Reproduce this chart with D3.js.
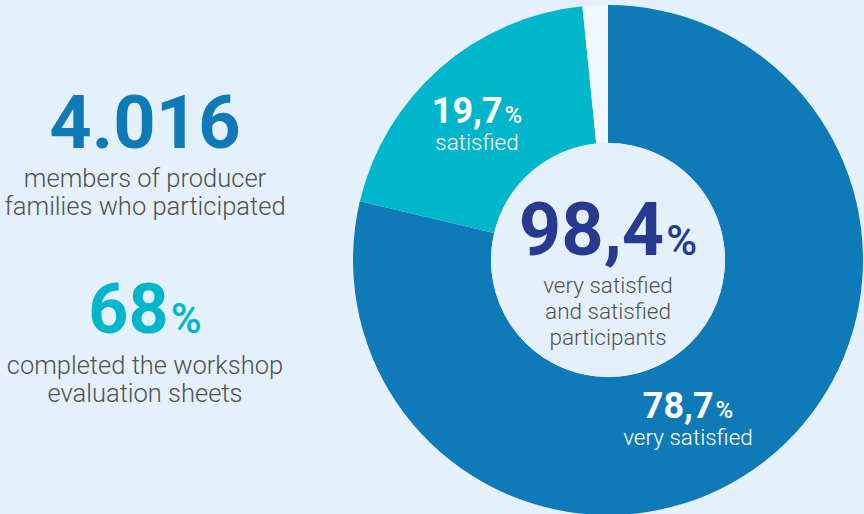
<!DOCTYPE html>
<html><head><meta charset="utf-8">
<script src="https://cdn.jsdelivr.net/npm/d3@7"></script>
<style>
html,body{margin:0;padding:0;background:#e5f1fa;}
svg{display:block;font-family:Roboto,"Noto Sans",sans-serif;}
</style></head>
<body>
<svg id="c" width="864" height="514"></svg>
<script>
const categories = ["very satisfied", "satisfied", "other"];
const values = [78.7, 19.7, 1.6];
const colors = ["#0e7bb8", "#00b6cd", "#f0f7fd"];
const totalLabel = "98,4";
const totalLines = ["very satisfied", "and satisfied", "participants"];
const stat1 = "4.016";
const stat1Lines = ["members of producer", "families who participated"];
const stat2 = "68";
const stat2Lines = ["completed the workshop", "evaluation sheets"];

const svg = d3.select("#c");
svg.append("rect").attr("width", 864).attr("height", 514).attr("fill", "#e5f1fa");

const cx = 608, cy = 260, rOuter = 255, rInner = 117;
const g = svg.append("g").attr("transform", `translate(${cx},${cy})`);
const pie = d3.pie().sort(null).value(d => d.v);
const data = pie(categories.map((c, i) => ({c, v: values[i], i})));
const arc = d3.arc().innerRadius(rInner).outerRadius(rOuter);
g.selectAll("path").data(data).join("path")
  .attr("d", arc).attr("fill", d => colors[d.data.i]);
g.append("circle").attr("r", rInner).attr("fill", "#e5f1fa");

function pct(sel, x, y, num, fs, pfs, color, anchor) {
  const t = sel.append("text").attr("x", x).attr("y", y).attr("text-anchor", anchor || "middle").attr("fill", color);
  t.append("tspan").attr("font-size", fs).attr("font-weight", 700).text(num);
  t.append("tspan").attr("font-size", pfs).attr("font-weight", 500).attr("dx", 2).text("%");
  return t;
}
function lines(sel, x, y, arr, fs, lh, color, weight) {
  arr.forEach((s, i) => {
    sel.append("text").attr("x", x).attr("y", y + i * lh).attr("text-anchor", "middle")
      .attr("font-size", fs).attr("font-weight", weight || 300).attr("fill", color).text(s);
  });
}

// Center label
pct(svg, cx, 255, totalLabel, 74, 42, "#283a8f");
lines(svg, cx, 293, totalLines, 22.5, 26, "#505050");

// Segment labels
pct(svg, 688, 418, "78,7", 36, 24, "#ffffff");
lines(svg, 688, 445, ["very satisfied"], 22.5, 25, "#ffffff");
pct(svg, 477, 123, "19,7", 36, 24, "#ffffff");
lines(svg, 477, 150, ["satisfied"], 22.5, 25, "#ffffff");

// Left stats
svg.append("text").attr("x", 145).attr("y", 148).attr("text-anchor", "middle")
  .attr("font-size", 74).attr("font-weight", 700).attr("fill", "#0e7bb8").text(stat1);
lines(svg, 145, 187, stat1Lines, 25.5, 27.5, "#505050");
pct(svg, 145, 333, stat2, 70, 42, "#00b6cd");
lines(svg, 145, 374, stat2Lines, 25.5, 28, "#505050");
</script>
</body></html>
